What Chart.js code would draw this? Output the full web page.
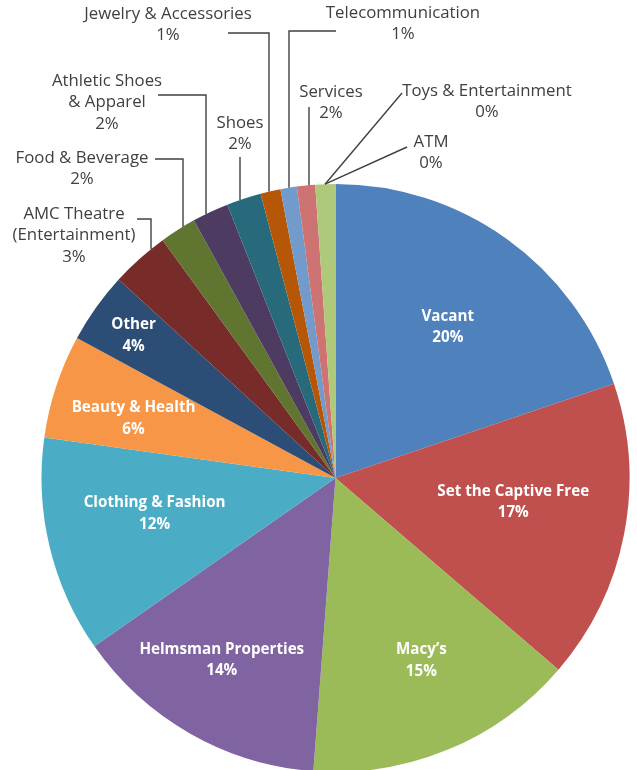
<!DOCTYPE html>
<html>
<head>
<meta charset="utf-8">
<script src="https://cdn.jsdelivr.net/npm/chart.js@4.4.1/dist/chart.umd.min.js"></script>
<style>
  html, body { margin: 0; padding: 0; background: #fff; }
  #wrap { width: 637px; height: 770px; position: relative; }
</style>
</head>
<body>
<div id="wrap"><canvas id="tenants"></canvas></div>
<script>
// slices, clockwise from 12 o'clock
const categories = ['Vacant', 'Set the Captive Free', 'Macy’s', 'Helmsman Properties',
  'Clothing & Fashion', 'Beauty & Health', 'Other', 'AMC Theatre (Entertainment)',
  'Food & Beverage', 'Athletic Shoes & Apparel', 'Shoes', 'Jewelry & Accessories',
  'Telecommunication', 'Services', 'Toys & Entertainment', 'ATM'];
const shares = [19.8, 16.5, 14.9, 14.1, 11.9, 5.7, 3.9, 3.2, 2.0, 2.0, 1.9, 1.1, 0.9, 1.0, 1.1, 0];
const pctText = ['20%', '17%', '15%', '14%', '12%', '6%', '4%', '3%', '2%', '2%', '2%', '1%', '1%', '2%', '0%', '0%'];

const colors = ['#4F81BD', '#C0504D', '#9BBB59', '#8064A2', '#4BACC6', '#F79646',
  '#2C4D75', '#772C2A', '#5F7530', '#4D3B62', '#276A7C', '#B65708',
  '#729ACA', '#CD7371', '#AFC97A', '#A18BB7'];

const FONT = '"Open Sans", "DejaVu Sans", sans-serif';
const LINE_H = 21.5;

// labels drawn inside the slice: radius factor and small angle shift (deg)
const inside = {
  0: { f: 0.64, shift: 1.0 },
  1: { f: 0.61, shift: -3.3 },
  2: { f: 0.686, shift: -2.7 },
  3: { f: 0.73, shift: 2.3 },
  4: { f: 0.627, shift: 2.4 },
  5: { f: 0.716, shift: -1.8 },
  6: { f: 0.84, shift: -0.3 }
};

// labels outside with leader lines: text center, words on first line, elbow points, x where the line meets the pie
const outside = {
  7:  { x: 74,  y: 214, words: 2, pts: [[137, 219], [151, 219]], endX: 151 },
  8:  { x: 82,  y: 158, words: 99, pts: [[155, 159], [183, 159]], endX: 183 },
  9:  { x: 107, y: 81,  words: 2, pts: [[158, 95], [206, 95]], endX: 206 },
  10: { x: 240, y: 123, words: 99, pts: [[240, 157]], endX: 240 },
  11: { x: 168, y: 14,  words: 99, pts: [[228, 33], [269, 33]], endX: 269 },
  12: { x: 403, y: 13,  words: 99, pts: [[336, 31], [289, 31]], endX: 289 },
  13: { x: 331, y: 92,  words: 99, pts: [[309, 107]], endX: 309 },
  14: { x: 487, y: 91,  words: 99, pts: [[402, 93]], endX: 325 },
  15: { x: 431, y: 142, words: 99, pts: [[407, 147]], endX: 325 }
};

function wrapName(name, n) {
  const w = name.split(' ');
  if (w.length <= n) return [name];
  return [w.slice(0, n).join(' '), w.slice(n).join(' ')];
}

const pieLabels = {
  id: 'pieLabels',
  afterDatasetsDraw(chart) {
    const ctx = chart.ctx;
    const arcs = chart.getDatasetMeta(0).data;
    const cx = arcs[0].x, cy = arcs[0].y, R = arcs[0].outerRadius;
    ctx.save();
    ctx.textAlign = 'center';
    ctx.textBaseline = 'middle';

    Object.keys(inside).forEach(k => {
      const i = +k, a = arcs[i], s = inside[k];
      const mid = (a.startAngle + a.endAngle) / 2 + s.shift * Math.PI / 180;
      const x = cx + Math.cos(mid) * R * s.f;
      const y = cy + Math.sin(mid) * R * s.f;
      ctx.font = 'bold 15.2px ' + FONT;
      ctx.fillStyle = '#fff';
      ctx.fillText(categories[i], x, y - LINE_H / 2);
      ctx.fillText(pctText[i], x, y + LINE_H / 2);
    });

    Object.keys(outside).forEach(k => {
      const i = +k, s = outside[k];
      ctx.strokeStyle = '#404040';
      ctx.lineWidth = 1.4;
      ctx.beginPath();
      ctx.moveTo(s.pts[0][0], s.pts[0][1]);
      s.pts.slice(1).forEach(p => ctx.lineTo(p[0], p[1]));
      const ey = cy - Math.sqrt(R * R - (s.endX - cx) * (s.endX - cx));
      ctx.lineTo(s.endX, ey);
      ctx.stroke();

      ctx.font = '16.8px ' + FONT;
      ctx.fillStyle = '#404040';
      const lines = wrapName(categories[i], s.words).concat([pctText[i]]);
      lines.forEach((t, j) => ctx.fillText(t, s.x, s.y + j * LINE_H));
    });
    ctx.restore();
  }
};

new Chart(document.getElementById('tenants'), {
  type: 'pie',
  data: {
    labels: categories,
    datasets: [{
      data: shares,
      backgroundColor: colors,
      borderWidth: 0,
      radius: 294
    }]
  },
  options: {
    responsive: true,
    maintainAspectRatio: false,
    animation: false,
    layout: { padding: { top: 186, bottom: 0, left: 42, right: 8 } },
    plugins: {
      legend: { display: false },
      tooltip: { enabled: false }
    }
  },
  plugins: [pieLabels]
});
</script>
</body>
</html>
